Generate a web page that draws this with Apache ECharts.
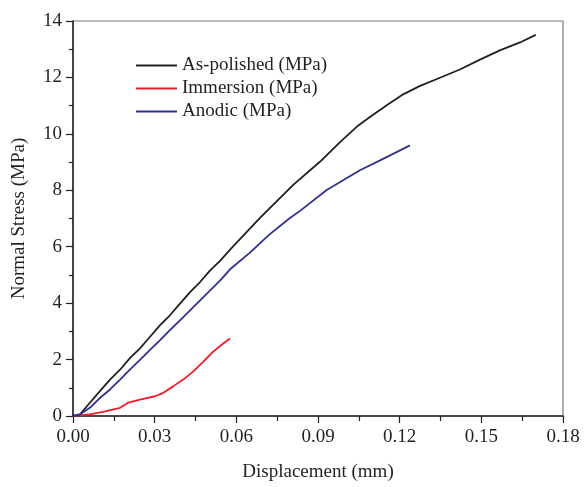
<!DOCTYPE html>
<html>
<head>
<meta charset="utf-8">
<script src="https://cdn.jsdelivr.net/npm/echarts@6/dist/echarts.min.js"></script>
<style>
html,body{margin:0;padding:0;background:#fff;}
#chart{width:587px;height:487px;}
</style>
</head>
<body>
<div id="chart"></div>
<script>
var seriesNames = ['As-polished (MPa)', 'Immersion (MPa)', 'Anodic (MPa)'];
var xTicks = [0, 0.03, 0.06, 0.09, 0.12, 0.15, 0.18];
var yTicks = [0, 2, 4, 6, 8, 10, 12, 14];

var asPolished = [
  [0,0],[0.0026,0.06],[0.0062,0.47],[0.0099,0.88],[0.0136,1.29],[0.0173,1.64],
  [0.0209,2.05],[0.0246,2.40],[0.0283,2.81],[0.0320,3.22],[0.0356,3.57],[0.0393,3.98],
  [0.0430,4.39],[0.0466,4.74],[0.0503,5.15],[0.0540,5.50],[0.0583,5.96],[0.0687,7.02],
  [0.0809,8.19],[0.0907,9.01],[0.0981,9.71],[0.1042,10.25],[0.1097,10.64],[0.1158,11.05],
  [0.1213,11.40],[0.1275,11.70],[0.1348,11.99],[0.1421,12.28],[0.1495,12.63],[0.1568,12.96],
  [0.1642,13.24],[0.1700,13.51]
];
var immersion = [
  [0,0],[0.0062,0.06],[0.0111,0.15],[0.0173,0.29],[0.0203,0.47],[0.0246,0.58],
  [0.0301,0.70],[0.0332,0.82],[0.0368,1.05],[0.0405,1.29],[0.0442,1.58],[0.0479,1.93],
  [0.0515,2.28],[0.0552,2.57],[0.0577,2.75]
];
var anodic = [
  [0,0],[0.0026,0.06],[0.0062,0.29],[0.0099,0.64],[0.0136,0.94],[0.0173,1.29],
  [0.0209,1.64],[0.0246,1.99],[0.0283,2.34],[0.0320,2.69],[0.0356,3.04],[0.0393,3.39],
  [0.0430,3.74],[0.0466,4.09],[0.0503,4.44],[0.0540,4.80],[0.0577,5.20],[0.0650,5.79],
  [0.0720,6.42],[0.0797,7.02],[0.0834,7.27],[0.0932,8.01],[0.1054,8.71],[0.1128,9.06],
  [0.1238,9.59]
];
var colors = ['#231f20', '#ee1c24', '#2e3192'];

var font = 'Liberation Serif, Times New Roman, serif';
var textColor = '#231f20';

var chart = echarts.init(document.getElementById('chart'));
chart.setOption({
  animation: false,
  backgroundColor: '#fff',
  grid: { left: 73, right: 24, top: 21, bottom: 67, show: true, borderColor: '#7a7a7a', borderWidth: 1.2 },
  legend: {
    orient: 'vertical', left: 131, top: 51,
    itemWidth: 41, itemHeight: 2, itemGap: 4,
    textStyle: { fontFamily: font, fontSize: 19, color: textColor },
    data: seriesNames.map(function (n, i) { return { name: n, icon: 'rect', itemStyle: { color: colors[i] } }; })
  },
  xAxis: {
    type: 'value', min: xTicks[0], max: xTicks[xTicks.length - 1], interval: 0.03,
    name: 'Displacement (mm)', nameLocation: 'middle', nameGap: 47,
    nameTextStyle: { fontFamily: font, fontSize: 19, color: textColor },
    axisLine: { show: true, onZero: false, lineStyle: { color: '#231f20', width: 1.5 } },
    axisTick: { show: true, inside: false, length: 7, lineStyle: { color: '#231f20', width: 1.2 } },
    minorTick: { show: true, splitNumber: 2, length: 5, lineStyle: { color: '#231f20', width: 1.2 } },
    splitLine: { show: false },
    axisLabel: { fontFamily: font, fontSize: 19, color: textColor, margin: 12,
      formatter: function (v) { return v.toFixed(2); } }
  },
  yAxis: {
    type: 'value', min: yTicks[0], max: yTicks[yTicks.length - 1], interval: 2,
    name: 'Normal Stress (MPa)', nameLocation: 'middle', nameGap: 44,
    nameTextStyle: { fontFamily: font, fontSize: 19, color: textColor },
    axisLine: { show: true, onZero: false, lineStyle: { color: '#231f20', width: 1.5 } },
    axisTick: { show: true, inside: false, length: 7, lineStyle: { color: '#231f20', width: 1.2 } },
    minorTick: { show: true, splitNumber: 2, length: 4, lineStyle: { color: '#231f20', width: 1.2 } },
    splitLine: { show: false },
    axisLabel: { fontFamily: font, fontSize: 19, color: textColor, margin: 11 }
  },
  series: [
    { name: seriesNames[0], type: 'line', data: asPolished, showSymbol: false, symbol: 'none',
      lineStyle: { color: colors[0], width: 1.8 }, itemStyle: { color: colors[0] } },
    { name: seriesNames[1], type: 'line', data: immersion, showSymbol: false, symbol: 'none',
      lineStyle: { color: colors[1], width: 1.8 }, itemStyle: { color: colors[1] } },
    { name: seriesNames[2], type: 'line', data: anodic, showSymbol: false, symbol: 'none',
      lineStyle: { color: colors[2], width: 1.8 }, itemStyle: { color: colors[2] } }
  ]
});
</script>
</body>
</html>
